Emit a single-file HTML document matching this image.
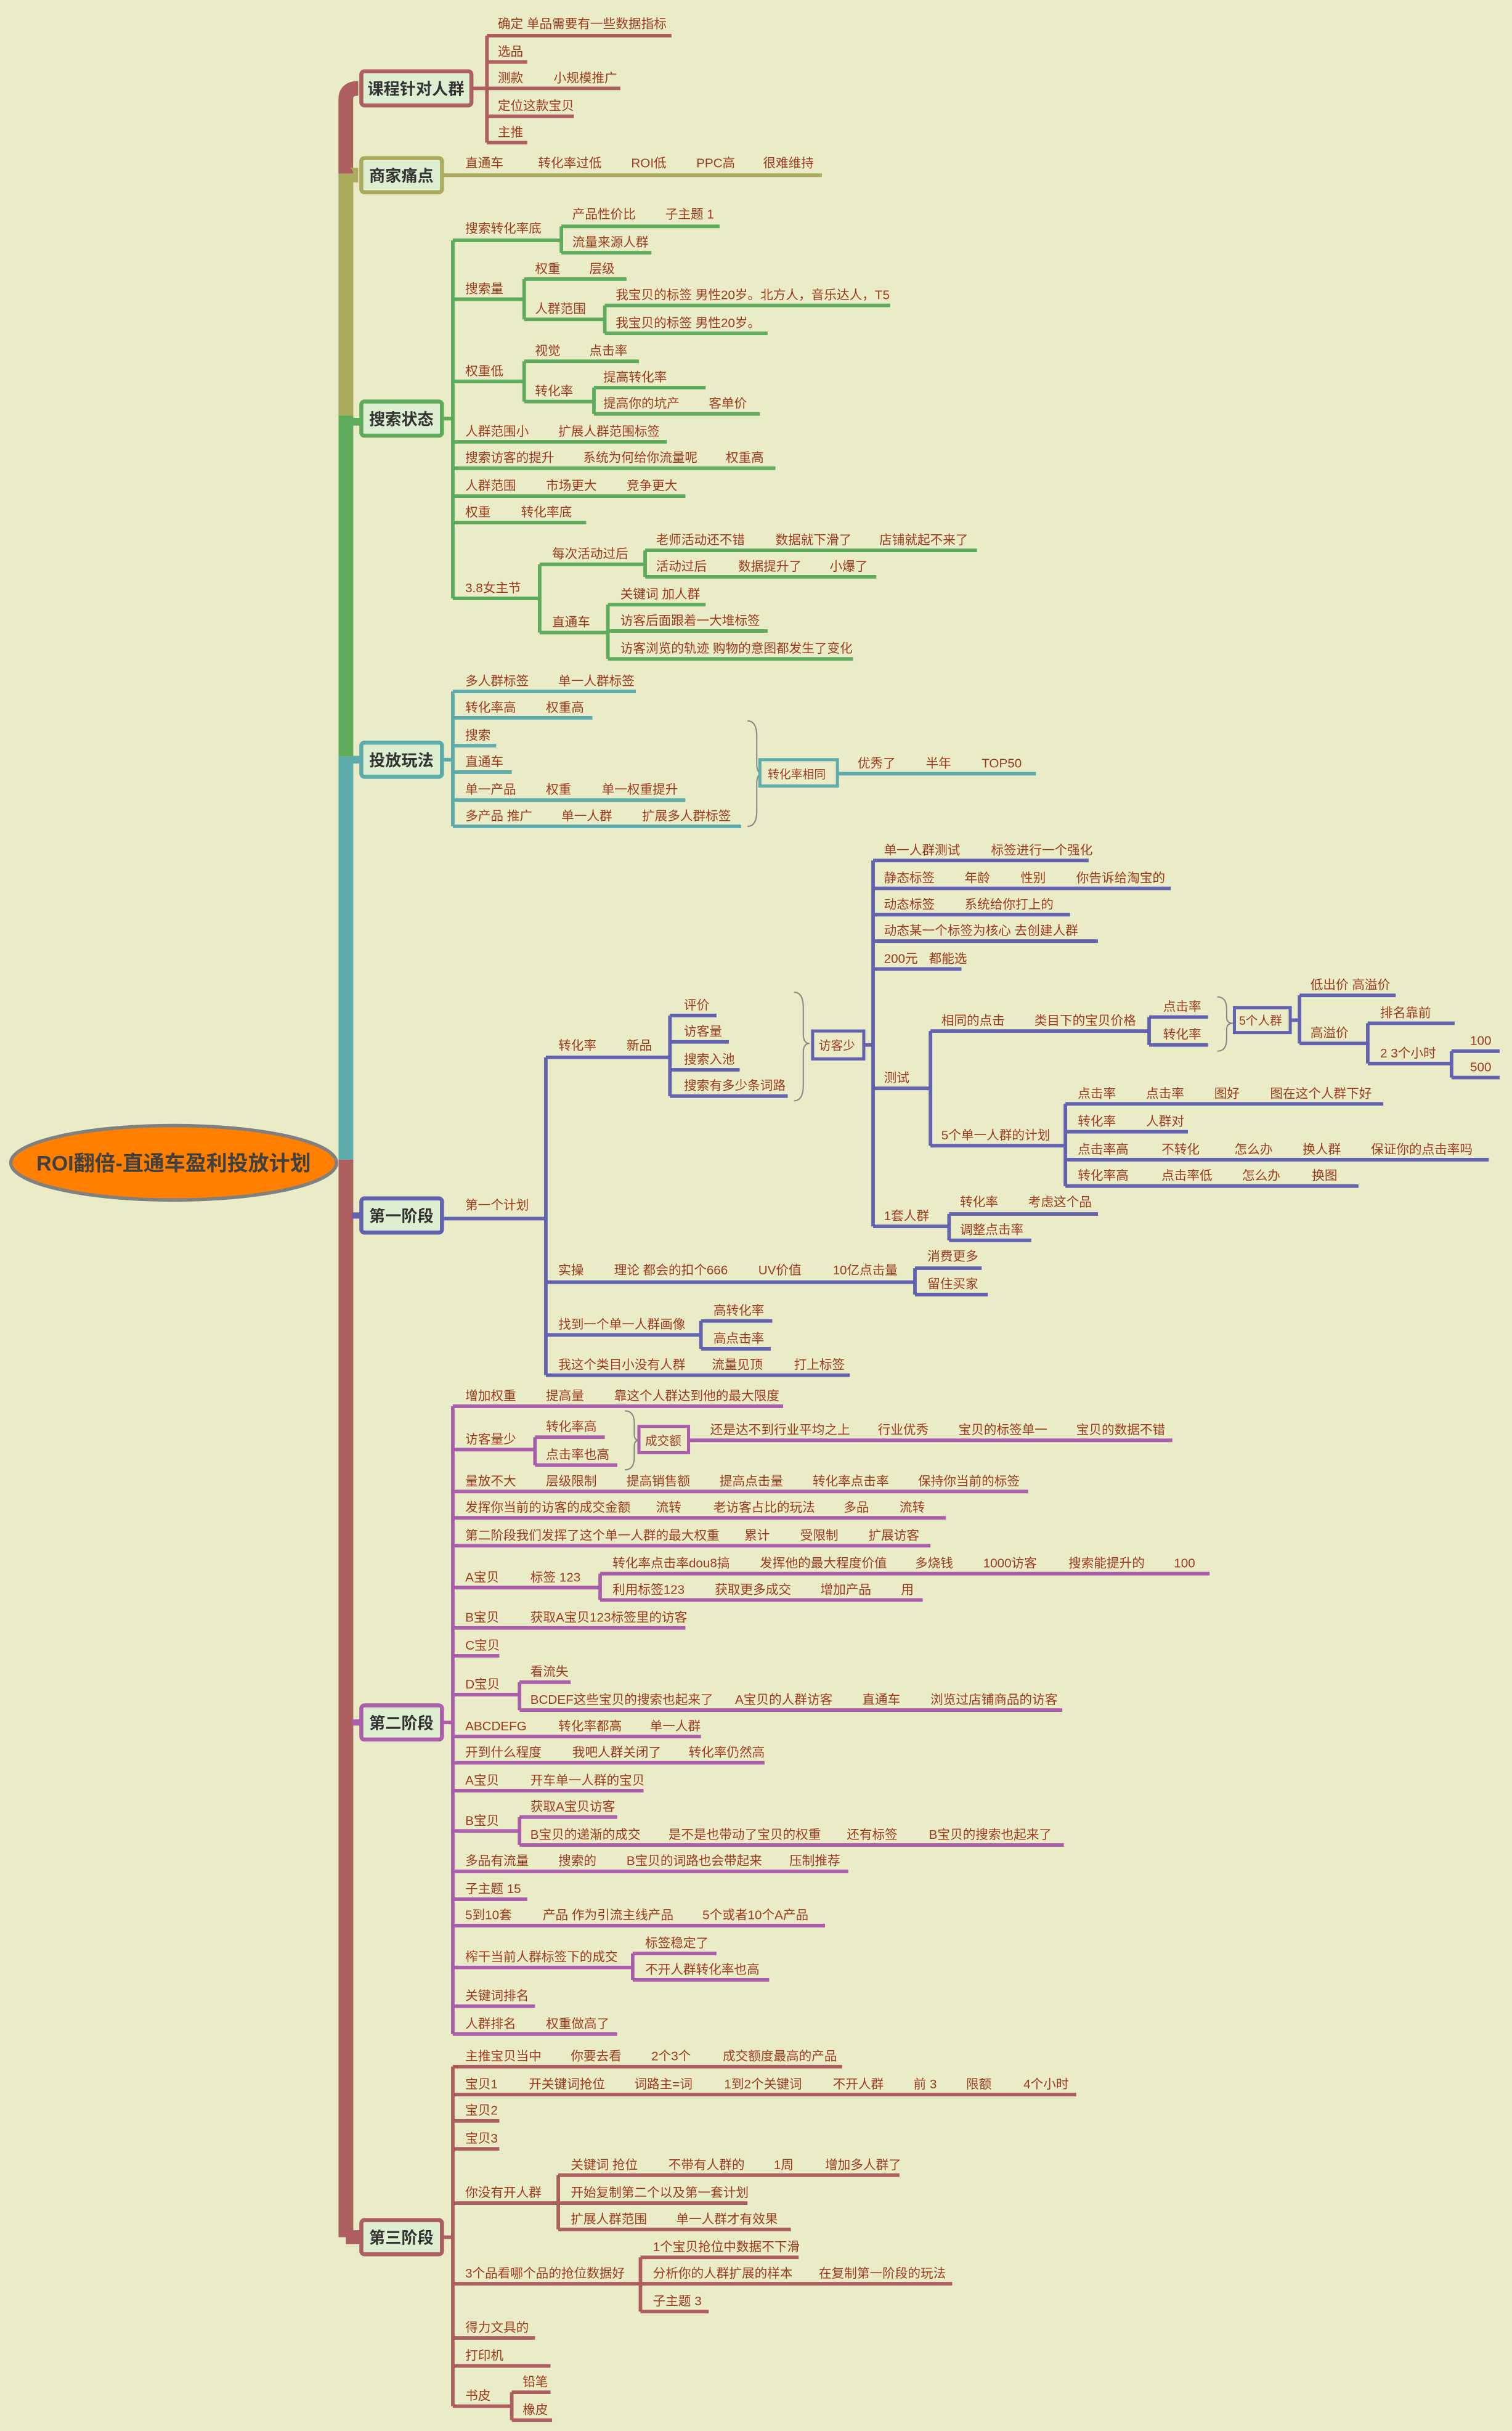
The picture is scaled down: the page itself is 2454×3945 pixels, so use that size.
<!DOCTYPE html>
<html><head><meta charset="utf-8">
<style>
html,body{margin:0;padding:0;background:#EAEBC7;}
svg{display:block;}
text{font-family:"Liberation Sans","Noto Sans CJK SC",sans-serif;}
.t{font-size:8.2px;fill:#9C3B1E;}
.n{font-size:10.4px;font-weight:bold;fill:#333;}
.l{fill:none;stroke-width:2.3;}
.r{stroke:#AD5F5F}.o{stroke:#ABAB5E}.g{stroke:#5EAB5E}.c{stroke:#5EABAB}.p{stroke:#6262B0}.m{stroke:#AB5EAB}
.box{fill:#DDEFD0;stroke-width:2.6;}
.br{fill:none;stroke:#888;stroke-width:0.8;}
</style></head>
<body>
<svg width="2454" height="3945" viewBox="0 0 975 1568" preserveAspectRatio="none" xmlns="http://www.w3.org/2000/svg">
<rect width="975" height="1568" fill="#EAEBC7"/>

<!-- spine -->
<path d="M223 112 V64 Q223 57 231 57" stroke="#AD5F5F" stroke-width="9.5" fill="none"/>
<path d="M223 268 V112 Q223 113 231 113" stroke="#ABAB5E" stroke-width="9.5" fill="none"/>
<rect x="218.3" y="112" width="9.5" height="156" fill="#ABAB5E"/>
<rect x="218.3" y="268" width="9.5" height="220" fill="#5EAB5E"/>
<path d="M227 272 H233" stroke="#5EAB5E" stroke-width="5"/>
<rect x="218.3" y="488" width="9.5" height="260" fill="#5EABAB"/>
<path d="M227 490 H233" stroke="#5EABAB" stroke-width="5"/>
<rect x="218.3" y="748" width="9.5" height="695" fill="#AD5F5F"/>
<path d="M227 784 H233" stroke="#6262B0" stroke-width="4"/>
<path d="M227 1111 H233" stroke="#AB5EAB" stroke-width="4"/>
<path d="M223 1443 H233" stroke="#AD5F5F" stroke-width="9"/>

<!-- root -->
<ellipse cx="112" cy="750" rx="105" ry="24" fill="#FF8000" stroke="#808080" stroke-width="2.2"/>
<text x="112" y="755" text-anchor="middle" style="font-size:13.5px;font-weight:bold;fill:#404040">ROI翻倍-直通车盈利投放计划</text>

<!-- main nodes -->
<rect class="box" x="233" y="46" width="71" height="22" rx="2" stroke="#AD5F5F"/><text class="n" x="237" y="61">课程针对人群</text>
<rect class="box" x="233" y="102" width="52" height="22" rx="2" stroke="#ABAB5E"/><text class="n" x="238" y="117">商家痛点</text>
<rect class="box" x="233" y="259" width="52" height="22" rx="2" stroke="#5EAB5E"/><text class="n" x="238" y="274">搜索状态</text>
<rect class="box" x="233" y="479" width="52" height="22" rx="2" stroke="#5EABAB"/><text class="n" x="238" y="494">投放玩法</text>
<rect class="box" x="233" y="773" width="52" height="22" rx="2" stroke="#6262B0"/><text class="n" x="238" y="788">第一阶段</text>
<rect class="box" x="233" y="1100" width="52" height="22" rx="2" stroke="#AB5EAB"/><text class="n" x="238" y="1115">第二阶段</text>
<rect class="box" x="233" y="1432" width="52" height="22" rx="2" stroke="#AD5F5F"/><text class="n" x="238" y="1447">第三阶段</text>

<!-- Branch 1 -->
<g class="l r">
<path d="M304 57 H314 M314 23 V92 M314 23 H433 M314 40 H340 M314 57 H400 M314 75 H370 M314 92 H340"/>
</g>
<text class="t" x="321" y="18">确定 单品需要有一些数据指标</text>
<text class="t" x="321" y="36">选品</text>
<text class="t" y="53"><tspan x="321">测款</tspan><tspan x="357">小规模推广</tspan></text>
<text class="t" x="321" y="71">定位这款宝贝</text>
<text class="t" x="321" y="88">主推</text>

<!-- Branch 2 -->
<path class="l o" d="M285 113 H530"/>
<text class="t" y="108"><tspan x="300">直通车</tspan><tspan x="347">转化率过低</tspan><tspan x="407">ROI低</tspan><tspan x="449">PPC高</tspan><tspan x="492">很难维持</tspan></text>

<!-- Branch 3 -->
<g class="l g">
<path d="M285 270 H292 M292 155 V386"/>
<path d="M292 155 H362 M362 146 V163 M362 146 H464 M362 163 H420"/>
<path d="M292 193 H338 M338 180 V206 M338 180 H404 M338 206 H390 M390 197 V215 M390 197 H574 M390 215 H495"/>
<path d="M292 246 H338 M338 233 V259 M338 233 H412 M338 259 H383 M383 250 V267 M383 250 H455 M383 267 H490"/>
<path d="M292 285 H430 M292 302 H500 M292 320 H442 M292 337 H378"/>
<path d="M292 386 H348 M348 364 V408 M348 364 H416 M416 355 V372 M416 355 H630 M416 372 H565"/>
<path d="M348 408 H392 M392 390 V425 M392 390 H455 M392 407 H495 M392 425 H550"/>
</g>
<text class="t" x="300" y="150">搜索转化率底</text>
<text class="t" y="141"><tspan x="369">产品性价比</tspan><tspan x="429">子主题 1</tspan></text>
<text class="t" x="369" y="159">流量来源人群</text>
<text class="t" x="300" y="189">搜索量</text>
<text class="t" y="176"><tspan x="345">权重</tspan><tspan x="380">层级</tspan></text>
<text class="t" x="345" y="202">人群范围</text>
<text class="t" x="397" y="193">我宝贝的标签 男性20岁。北方人，音乐达人，T5</text>
<text class="t" x="397" y="211">我宝贝的标签 男性20岁。</text>
<text class="t" x="300" y="242">权重低</text>
<text class="t" y="229"><tspan x="345">视觉</tspan><tspan x="380">点击率</tspan></text>
<text class="t" x="345" y="255">转化率</text>
<text class="t" x="389" y="246">提高转化率</text>
<text class="t" y="263"><tspan x="389">提高你的坑产</tspan><tspan x="457">客单价</tspan></text>
<text class="t" y="281"><tspan x="300">人群范围小</tspan><tspan x="360">扩展人群范围标签</tspan></text>
<text class="t" y="298"><tspan x="300">搜索访客的提升</tspan><tspan x="376">系统为何给你流量呢</tspan><tspan x="468">权重高</tspan></text>
<text class="t" y="316"><tspan x="300">人群范围</tspan><tspan x="352">市场更大</tspan><tspan x="404">竞争更大</tspan></text>
<text class="t" y="333"><tspan x="300">权重</tspan><tspan x="336">转化率底</tspan></text>
<text class="t" x="300" y="382">3.8女主节</text>
<text class="t" x="356" y="360">每次活动过后</text>
<text class="t" y="351"><tspan x="423">老师活动还不错</tspan><tspan x="500">数据就下滑了</tspan><tspan x="567">店铺就起不来了</tspan></text>
<text class="t" y="368"><tspan x="423">活动过后</tspan><tspan x="476">数据提升了</tspan><tspan x="535">小爆了</tspan></text>
<text class="t" x="356" y="404">直通车</text>
<text class="t" x="400" y="386">关键词 加人群</text>
<text class="t" x="400" y="403">访客后面跟着一大堆标签</text>
<text class="t" x="400" y="421">访客浏览的轨迹 购物的意图都发生了变化</text>

<!-- Branch 4 -->
<g class="l c">
<path d="M285 490 H292 M292 446 V533 M292 446 H410 M292 463 H382 M292 481 H320 M292 498 H330 M292 516 H442 M292 533 H478 M540 499 H668"/>
</g>
<path class="br" d="M482 465 Q488 465 488 475 V493 Q488 499 492 499 Q488 499 488 505 V523 Q488 533 482 533"/>
<rect x="490" y="490" width="50" height="17" fill="#EAEBC7" stroke="#5EABAB" stroke-width="2"/>
<text class="t" x="495" y="502" style="font-size:7.5px">转化率相同</text>
<text class="t" y="442"><tspan x="300">多人群标签</tspan><tspan x="360">单一人群标签</tspan></text>
<text class="t" y="459"><tspan x="300">转化率高</tspan><tspan x="352">权重高</tspan></text>
<text class="t" x="300" y="477">搜索</text>
<text class="t" x="300" y="494">直通车</text>
<text class="t" y="512"><tspan x="300">单一产品</tspan><tspan x="352">权重</tspan><tspan x="388">单一权重提升</tspan></text>
<text class="t" y="529"><tspan x="300">多产品 推广</tspan><tspan x="362">单一人群</tspan><tspan x="414">扩展多人群标签</tspan></text>
<text class="t" y="495"><tspan x="553">优秀了</tspan><tspan x="597">半年</tspan><tspan x="633">TOP50</tspan></text>

<!-- Branch 5 -->
<g class="l p">
<path d="M285 786 H352 M352 682 V887"/>
<path d="M352 682 H432 M432 655 V707 M432 655 H462 M432 672 H470 M432 690 H477 M432 707 H508"/>
<path d="M557 674 H563 M563 555 V791 M563 555 H702 M563 573 H755 M563 590 H690 M563 607 H708 M563 625 H620"/>
<path d="M563 702 H600 M600 665 V739 M600 665 H741 M741 656 V674 M741 656 H779 M741 674 H779"/>
<path d="M832 658 H838 M838 642 V673 M838 642 H900 M838 673 H882 M882 660 V686 M882 660 H938 M882 686 H936 M936 678 V695 M936 678 H967 M936 695 H967"/>
<path d="M600 739 H687 M687 712 V765 M687 712 H892 M687 730 H766 M687 748 H960 M687 765 H876"/>
<path d="M563 791 H612 M612 783 V800 M612 783 H708 M612 800 H665"/>
<path d="M352 827 H590 M590 818 V835 M590 818 H633 M590 835 H637"/>
<path d="M352 861 H452 M452 852 V870 M452 852 H498 M452 870 H497"/>
<path d="M352 887 H548"/>
</g>
<path class="br" d="M512 640 Q518 640 518 650 V667 Q518 673 522 673 Q518 673 518 679 V700 Q518 710 512 710"/>
<rect x="524" y="665" width="33" height="18" fill="#EAEBC7" stroke="#6262B0" stroke-width="2"/>
<text class="t" x="528" y="677" style="font-size:7.8px">访客少</text>
<path class="br" d="M785 643 Q791 643 791 651 V656 Q791 660 795 660 Q791 660 791 664 V670 Q791 678 785 678"/>
<rect x="796" y="650" width="36" height="16" fill="#EAEBC7" stroke="#6262B0" stroke-width="2"/>
<text class="t" x="799" y="661" style="font-size:7.8px">5个人群</text>
<text class="t" x="300" y="780">第一个计划</text>
<text class="t" y="677"><tspan x="360">转化率</tspan><tspan x="404">新品</tspan></text>
<text class="t" x="441" y="651">评价</text>
<text class="t" x="441" y="668">访客量</text>
<text class="t" x="441" y="686">搜索入池</text>
<text class="t" x="441" y="703">搜索有多少条词路</text>
<text class="t" y="551"><tspan x="570">单一人群测试</tspan><tspan x="639">标签进行一个强化</tspan></text>
<text class="t" y="569"><tspan x="570">静态标签</tspan><tspan x="622">年龄</tspan><tspan x="658">性别</tspan><tspan x="694">你告诉给淘宝的</tspan></text>
<text class="t" y="586"><tspan x="570">动态标签</tspan><tspan x="622">系统给你打上的</tspan></text>
<text class="t" x="570" y="603">动态某一个标签为核心 去创建人群</text>
<text class="t" y="621"><tspan x="570">200元</tspan><tspan x="599">都能选</tspan></text>
<text class="t" x="570" y="698">测试</text>
<text class="t" y="661"><tspan x="607">相同的点击</tspan><tspan x="667">类目下的宝贝价格</tspan></text>
<text class="t" x="750" y="652">点击率</text>
<text class="t" x="750" y="670">转化率</text>
<text class="t" x="845" y="638">低出价 高溢价</text>
<text class="t" x="845" y="669">高溢价</text>
<text class="t" x="890" y="656">排名靠前</text>
<text class="t" x="890" y="682">2  3个小时</text>
<text class="t" x="948" y="674">100</text>
<text class="t" x="948" y="691">500</text>
<text class="t" x="607" y="735">5个单一人群的计划</text>
<text class="t" y="708"><tspan x="695">点击率</tspan><tspan x="739">点击率</tspan><tspan x="783">图好</tspan><tspan x="819">图在这个人群下好</tspan></text>
<text class="t" y="726"><tspan x="695">转化率</tspan><tspan x="739">人群对</tspan></text>
<text class="t" y="744"><tspan x="695">点击率高</tspan><tspan x="749">不转化</tspan><tspan x="796">怎么办</tspan><tspan x="840">换人群</tspan><tspan x="884">保证你的点击率吗</tspan></text>
<text class="t" y="761"><tspan x="695">转化率高</tspan><tspan x="749">点击率低</tspan><tspan x="801">怎么办</tspan><tspan x="846">换图</tspan></text>
<text class="t" x="570" y="787">1套人群</text>
<text class="t" y="778"><tspan x="619">转化率</tspan><tspan x="663">考虑这个品</tspan></text>
<text class="t" x="619" y="796">调整点击率</text>
<text class="t" y="822"><tspan x="360">实操</tspan><tspan x="396">理论 都会的扣个666</tspan><tspan x="489">UV价值</tspan><tspan x="537">10亿点击量</tspan></text>
<text class="t" x="598" y="813">消费更多</text>
<text class="t" x="598" y="831">留住买家</text>
<text class="t" x="360" y="857">找到一个单一人群画像</text>
<text class="t" x="460" y="848">高转化率</text>
<text class="t" x="460" y="866">高点击率</text>
<text class="t" y="883"><tspan x="360">我这个类目小没有人群</tspan><tspan x="459">流量见顶</tspan><tspan x="512">打上标签</tspan></text>

<!-- Branch 6 -->
<g class="l m">
<path d="M285 1111 H292 M292 907 V1312"/>
<path d="M292 907 H505"/>
<path d="M292 935 H345 M345 927 V945 M345 927 H390 M345 945 H398 M444 929 H756"/>
<path d="M292 962 H663 M292 979 H610 M292 997 H600"/>
<path d="M292 1024 H387 M387 1015 V1032 M387 1015 H780 M387 1032 H595"/>
<path d="M292 1050 H442 M292 1068 H322"/>
<path d="M292 1093 H335 M335 1085 V1103 M335 1085 H368 M335 1103 H685"/>
<path d="M292 1120 H452 M292 1137 H493 M292 1155 H415"/>
<path d="M292 1181 H335 M335 1172 V1190 M335 1172 H398 M335 1190 H686"/>
<path d="M292 1207 H547 M292 1225 H340 M292 1242 H532"/>
<path d="M292 1269 H408 M408 1260 V1277 M408 1260 H462 M408 1277 H496"/>
<path d="M292 1294 H345 M292 1312 H398"/>
</g>
<path class="br" d="M403 910 Q409 910 409 918 V925 Q409 929 412 929 Q409 929 409 933 V940 Q409 948 403 948"/>
<rect x="412" y="920" width="32" height="17" fill="#EAEBC7" stroke="#AB5EAB" stroke-width="2"/>
<text class="t" x="416" y="932" style="font-size:7.8px">成交额</text>
<text class="t" y="903"><tspan x="300">增加权重</tspan><tspan x="352">提高量</tspan><tspan x="396">靠这个人群达到他的最大限度</tspan></text>
<text class="t" x="300" y="931">访客量少</text>
<text class="t" x="352" y="923">转化率高</text>
<text class="t" x="352" y="941">点击率也高</text>
<text class="t" y="925"><tspan x="458">还是达不到行业平均之上</tspan><tspan x="566">行业优秀</tspan><tspan x="618">宝贝的标签单一</tspan><tspan x="694">宝贝的数据不错</tspan></text>
<text class="t" y="958"><tspan x="300">量放不大</tspan><tspan x="352">层级限制</tspan><tspan x="404">提高销售额</tspan><tspan x="464">提高点击量</tspan><tspan x="524">转化率点击率</tspan><tspan x="592">保持你当前的标签</tspan></text>
<text class="t" y="975"><tspan x="300">发挥你当前的访客的成交金额</tspan><tspan x="423">流转</tspan><tspan x="460">老访客占比的玩法</tspan><tspan x="544">多品</tspan><tspan x="580">流转</tspan></text>
<text class="t" y="993"><tspan x="300">第二阶段我们发挥了这个单一人群的最大权重</tspan><tspan x="480">累计</tspan><tspan x="516">受限制</tspan><tspan x="560">扩展访客</tspan></text>
<text class="t" y="1020"><tspan x="300">A宝贝</tspan><tspan x="342">标签 123</tspan></text>
<text class="t" y="1011"><tspan x="395">转化率点击率dou8搞</tspan><tspan x="490">发挥他的最大程度价值</tspan><tspan x="590">多烧钱</tspan><tspan x="634">1000访客</tspan><tspan x="689">搜索能提升的</tspan><tspan x="757">100</tspan></text>
<text class="t" y="1028"><tspan x="395">利用标签123</tspan><tspan x="461">获取更多成交</tspan><tspan x="529">增加产品</tspan><tspan x="581">用</tspan></text>
<text class="t" y="1046"><tspan x="300">B宝贝</tspan><tspan x="342">获取A宝贝123标签里的访客</tspan></text>
<text class="t" x="300" y="1064">C宝贝</text>
<text class="t" x="300" y="1089">D宝贝</text>
<text class="t" x="342" y="1081">看流失</text>
<text class="t" y="1099"><tspan x="342">BCDEF这些宝贝的搜索也起来了</tspan><tspan x="474">A宝贝的人群访客</tspan><tspan x="556">直通车</tspan><tspan x="600">浏览过店铺商品的访客</tspan></text>
<text class="t" y="1116"><tspan x="300">ABCDEFG</tspan><tspan x="360">转化率都高</tspan><tspan x="419">单一人群</tspan></text>
<text class="t" y="1133"><tspan x="300">开到什么程度</tspan><tspan x="369">我吧人群关闭了</tspan><tspan x="444">转化率仍然高</tspan></text>
<text class="t" y="1151"><tspan x="300">A宝贝</tspan><tspan x="342">开车单一人群的宝贝</tspan></text>
<text class="t" x="300" y="1177">B宝贝</text>
<text class="t" x="342" y="1168">获取A宝贝访客</text>
<text class="t" y="1186"><tspan x="342">B宝贝的递渐的成交</tspan><tspan x="431">是不是也带动了宝贝的权重</tspan><tspan x="546">还有标签</tspan><tspan x="599">B宝贝的搜索也起来了</tspan></text>
<text class="t" y="1203"><tspan x="300">多品有流量</tspan><tspan x="360">搜索的</tspan><tspan x="404">B宝贝的词路也会带起来</tspan><tspan x="509">压制推荐</tspan></text>
<text class="t" x="300" y="1221">子主题 15</text>
<text class="t" y="1238"><tspan x="300">5到10套</tspan><tspan x="350">产品 作为引流主线产品</tspan><tspan x="453">5个或者10个A产品</tspan></text>
<text class="t" x="300" y="1265">榨干当前人群标签下的成交</text>
<text class="t" x="416" y="1256">标签稳定了</text>
<text class="t" x="416" y="1273">不开人群转化率也高</text>
<text class="t" x="300" y="1290">关键词排名</text>
<text class="t" y="1308"><tspan x="300">人群排名</tspan><tspan x="352">权重做高了</tspan></text>

<!-- Branch 7 -->
<g class="l r">
<path d="M285 1443 H292 M292 1333 V1552"/>
<path d="M292 1333 H543 M292 1351 H694 M292 1368 H322 M292 1386 H322"/>
<path d="M292 1421 H360 M360 1403 V1438 M360 1403 H580 M360 1421 H482 M360 1438 H510"/>
<path d="M292 1473 H413 M413 1456 V1491 M413 1456 H515 M413 1473 H614 M413 1491 H457"/>
<path d="M292 1508 H345 M292 1526 H355"/>
<path d="M292 1552 H330 M330 1543 V1561 M330 1543 H355 M330 1561 H356"/>
</g>
<text class="t" y="1329"><tspan x="300">主推宝贝当中</tspan><tspan x="368">你要去看</tspan><tspan x="420">2个3个</tspan><tspan x="466">成交额度最高的产品</tspan></text>
<text class="t" y="1347"><tspan x="300">宝贝1</tspan><tspan x="341">开关键词抢位</tspan><tspan x="409">词路主=词</tspan><tspan x="467">1到2个关键词</tspan><tspan x="537">不开人群</tspan><tspan x="589">前 3</tspan><tspan x="623">限额</tspan><tspan x="660">4个小时</tspan></text>
<text class="t" x="300" y="1364">宝贝2</text>
<text class="t" x="300" y="1382">宝贝3</text>
<text class="t" x="300" y="1417">你没有开人群</text>
<text class="t" y="1399"><tspan x="368">关键词 抢位</tspan><tspan x="431">不带有人群的</tspan><tspan x="499">1周</tspan><tspan x="532">增加多人群了</tspan></text>
<text class="t" x="368" y="1417">开始复制第二个以及第一套计划</text>
<text class="t" y="1434"><tspan x="368">扩展人群范围</tspan><tspan x="436">单一人群才有效果</tspan></text>
<text class="t" x="300" y="1469">3个品看哪个品的抢位数据好</text>
<text class="t" x="421" y="1452">1个宝贝抢位中数据不下滑</text>
<text class="t" y="1469"><tspan x="421">分析你的人群扩展的样本</tspan><tspan x="528">在复制第一阶段的玩法</tspan></text>
<text class="t" x="421" y="1487">子主题 3</text>
<text class="t" x="300" y="1504">得力文具的</text>
<text class="t" x="300" y="1522">打印机</text>
<text class="t" x="300" y="1548">书皮</text>
<text class="t" x="337" y="1539">铅笔</text>
<text class="t" x="337" y="1557">橡皮</text>
</svg>
</body></html>
